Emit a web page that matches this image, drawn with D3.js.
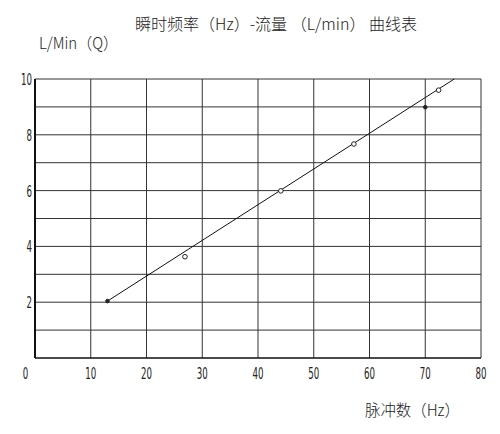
<!DOCTYPE html>
<html>
<head>
<meta charset="utf-8">
<script src="https://cdn.jsdelivr.net/npm/d3@7"></script>
<style>
  body { margin: 0; background: #fff; }
  text { fill: #222; }
</style>
</head>
<body>
<script>
// measured points (Hz, L/min)
const freq = [13.0, 26.9, 44.1, 57.2, 72.4, 70.0]
const flow = [2.04, 3.63, 5.99, 7.67, 9.6, 8.99]
const filled = [true, false, false, false, false, true]
// fitted line end points
const fitX = [13.0, 75.2]
const fitY = [2.04, 10]
const xTicks = [0, 10, 20, 30, 40, 50, 60, 70, 80]
const yTicks = [2, 4, 6, 8, 10]
const yGrid = [1, 2, 3, 4, 5, 6, 7, 8, 9, 10]

const width = 500, height = 434
const svg = d3.select('body').append('svg')
    .attr('width', width)
    .attr('height', height)

const x = d3.scaleLinear().domain([0, 80]).range([35, 481])
const y = d3.scaleLinear().domain([0, 10]).range([358, 79])

const latin = "'DejaVu Sans Condensed', 'DejaVu Sans', sans-serif"
const cjk = "'Noto Sans CJK SC', sans-serif"

// grid
svg.selectAll('line.h').data(yGrid).enter().append('line')
    .attr('x1', x(0)).attr('x2', x(80))
    .attr('y1', d => y(d)).attr('y2', d => y(d))
    .attr('stroke', '#333').attr('stroke-width', 1)
svg.selectAll('line.v').data(xTicks).enter().append('line')
    .attr('y1', y(0)).attr('y2', y(10))
    .attr('x1', d => x(d)).attr('x2', d => x(d))
    .attr('stroke', '#333').attr('stroke-width', 1)
svg.append('line')
    .attr('x1', x(0)).attr('x2', x(80)).attr('y1', y(0)).attr('y2', y(0))
    .attr('stroke', '#111').attr('stroke-width', 1.5)
svg.append('line')
    .attr('x1', x(0)).attr('x2', x(0)).attr('y1', y(0)).attr('y2', y(10))
    .attr('stroke', '#111').attr('stroke-width', 2)

// tick labels
svg.selectAll('text.xl').data(xTicks).enter().append('text')
    .attr('transform', d => 'translate(' + (d === 0 ? 25.5 : x(d)) + ',379) scale(0.6,1)')
    .attr('text-anchor', 'middle')
    .style('font-family', latin).style('font-size', '16px')
    .text(d => d)
svg.selectAll('text.yl').data(yTicks).enter().append('text')
    .attr('transform', d => 'translate(32,' + (y(d) + 6) + ') scale(0.6,1)')
    .attr('text-anchor', 'end')
    .style('font-family', latin).style('font-size', '16px')
    .text(d => d)

// fitted line
const line = d3.line().x(d => x(d[0])).y(d => y(d[1]))
svg.append('path')
    .attr('d', line(d3.zip(fitX, fitY)))
    .attr('fill', 'none').attr('stroke', '#111').attr('stroke-width', 1)

// points
svg.selectAll('circle').data(d3.zip(freq, flow, filled)).enter().append('circle')
    .attr('cx', d => x(d[0])).attr('cy', d => y(d[1]))
    .attr('r', d => d[2] ? 1.8 : 2.3)
    .attr('fill', d => d[2] ? '#222' : '#fff')
    .attr('stroke', '#222').attr('stroke-width', 1)

// titles
svg.append('text')
    .attr('x', 135).attr('y', 30)
    .attr('textLength', 282).attr('lengthAdjust', 'spacingAndGlyphs')
    .style('font-family', cjk).style('font-size', '16px').style('font-weight', 300)
    .text('瞬时频率（Hz）-流量 （L/min） 曲线表')
svg.append('text')
    .attr('x', 39).attr('y', 49)
    .attr('textLength', 79).attr('lengthAdjust', 'spacingAndGlyphs')
    .style('font-family', cjk).style('font-size', '16px').style('font-weight', 300)
    .text('L/Min（Q）')
svg.append('text')
    .attr('x', 365).attr('y', 416)
    .attr('textLength', 95).attr('lengthAdjust', 'spacingAndGlyphs')
    .style('font-family', cjk).style('font-size', '16px').style('font-weight', 300)
    .text('脉冲数（Hz）')
</script>
</body>
</html>
